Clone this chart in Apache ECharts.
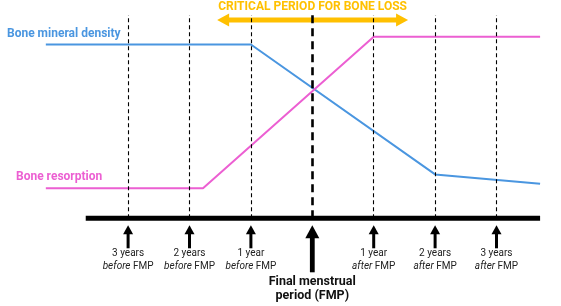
<!DOCTYPE html>
<html><head><meta charset="utf-8">
<script src="https://cdn.jsdelivr.net/npm/echarts@6/dist/echarts.min.js"></script>
<style>html,body{margin:0;padding:0;background:#fff}#c{width:561px;height:306px}</style>
</head><body><div id="c"></div>
<script>
// Years relative to final menstrual period (FMP)
const densityX = [-4.34, -1, 2, 3.71];
const densityY = [85.5, 85.5, 21.6, 17.0];
const resorptionX = [-4.34, -1.78, 1, 3.71];
const resorptionY = [14.8, 14.8, 89.3, 89.3];
const tickYears = [-3, -2, -1, 0, 1, 2, 3];
const tickLine1 = ['3 years', '2 years', '1 year', 'Final menstrual', '1 year', '2 years', '3 years'];
const tickLine2 = ['before', 'before', 'before', 'period (FMP)', 'after', 'after', 'after'];
const baselineX = [-3.69, 3.71];
const criticalPeriod = [-1.55, 1.56];
const seriesNames = ['Bone mineral density', 'Bone resorption'];
const title = 'CRITICAL PERIOD FOR BONE LOSS';

const BLUE = '#4A96E0', PINK = '#EC5FD2', GOLD = '#FFC000';
const FONT = 'Roboto';

const chart = echarts.init(document.getElementById('c'), null, {renderer: 'canvas'});
const pxPerYear = 61.4, zeroPx = 312.3;
const option = {
  animation: false,
  grid: {left: 0, right: 0, top: 15, bottom: 87.7},
  xAxis: {type: 'value', min: -zeroPx / pxPerYear, max: (561 - zeroPx) / pxPerYear, show: false},
  yAxis: {type: 'value', min: 0, max: 100, show: false},
  series: [
    {
      name: 'markers', type: 'line', data: [], silent: true,
      markLine: {
        silent: true, symbol: 'none', label: {show: false},
        data: tickYears.map(v => ({xAxis: v, lineStyle: v === 0
          ? {color: '#000', width: 2.6, type: [8, 5]}
          : {color: '#000', width: 1.1, type: [4, 3]}}))
      }
    },
    {
      name: seriesNames[0], type: 'line', data: densityX.map((x, i) => [x, densityY[i]]),
      symbol: 'none', lineStyle: {color: BLUE, width: 2}, clip: false, z: 3
    },
    {
      name: seriesNames[1], type: 'line', data: resorptionX.map((x, i) => [x, resorptionY[i]]),
      symbol: 'none', lineStyle: {color: PINK, width: 2}, clip: false, z: 3
    },
    {
      name: 'baseline', type: 'line', data: baselineX.map(x => [x, 0]),
      symbol: 'none', lineStyle: {color: '#000', width: 5}, clip: false, z: 4
    },
    {
      name: 'ticks', type: 'custom', clip: false, z: 5,
      data: tickYears.map((v, i) => [v, 0, i]),
      renderItem: function (params, api) {
        const i = api.value(2);
        const p = api.coord([api.value(0), 0]);
        const x = p[0], y = p[1];
        const big = api.value(0) === 0;
        const headW = big ? 7 : 5, headH = big ? 13 : 9, shaftW = big ? 4.8 : 3;
        const top = y + 7, bottom = y + (big ? 54 : 30);
        const children = [
          {type: 'polygon', shape: {points: [[x, top], [x - headW, top + headH], [x + headW, top + headH]]}, style: {fill: '#000'}},
          {type: 'rect', shape: {x: x - shaftW / 2, y: top + headH - 1, width: shaftW, height: bottom - top - headH + 1}, style: {fill: '#000'}}
        ];
        if (big) {
          children.push({type: 'text', style: {
            text: tickLine1[i] + '\n' + tickLine2[i], x: x, y: y + 57,
            align: 'center', verticalAlign: 'top', fontFamily: FONT, fontWeight: 'bold',
            fontSize: 12.5, lineHeight: 14, fill: '#111'}});
        } else {
          children.push({type: 'text', style: {
            text: '{n|' + tickLine1[i] + '}\n{it|' + tickLine2[i] + '}{n| FMP}', x: x, y: y + 29,
            align: 'center', verticalAlign: 'top', fontFamily: FONT, fontSize: 10, lineHeight: 13, fill: '#222',
            rich: {n: {fontFamily: FONT, fontSize: 10, lineHeight: 13, fill: '#222'},
                   it: {fontFamily: FONT, fontSize: 10, lineHeight: 13, fontStyle: 'italic', fill: '#222'}}}});
        }
        return {type: 'group', children: children};
      }
    }
  ],
  graphic: []
};
chart.setOption(option);

// labels and critical period arrow, positioned from the axis scale
const l = chart.convertToPixel({seriesIndex: 1}, [criticalPeriod[0], 100]);
const r = chart.convertToPixel({seriesIndex: 1}, [criticalPeriod[1], 100]);
const ay = 20, hl = 12, hh = 6.5, th = 2.4;
chart.setOption({graphic: [
  {type: 'text', left: 7, top: 28, style: {text: seriesNames[0], fontFamily: FONT, fontWeight: 'bold', fontSize: 12, fill: BLUE}},
  {type: 'text', left: 16, top: 171, style: {text: seriesNames[1], fontFamily: FONT, fontWeight: 'bold', fontSize: 12, fill: PINK}},
  {type: 'text', x: (l[0] + r[0]) / 2, y: 7, style: {text: title, align: 'center', verticalAlign: 'middle', fontFamily: FONT, fontWeight: 'bold', fontSize: 12, fill: GOLD}},
  {type: 'polygon', shape: {points: [
    [l[0], ay], [l[0] + hl, ay - hh], [l[0] + hl, ay - th], [r[0] - hl, ay - th], [r[0] - hl, ay - hh],
    [r[0], ay], [r[0] - hl, ay + hh], [r[0] - hl, ay + th], [l[0] + hl, ay + th], [l[0] + hl, ay + hh]
  ]}, style: {fill: GOLD}}
]});
</script>
</body></html>
